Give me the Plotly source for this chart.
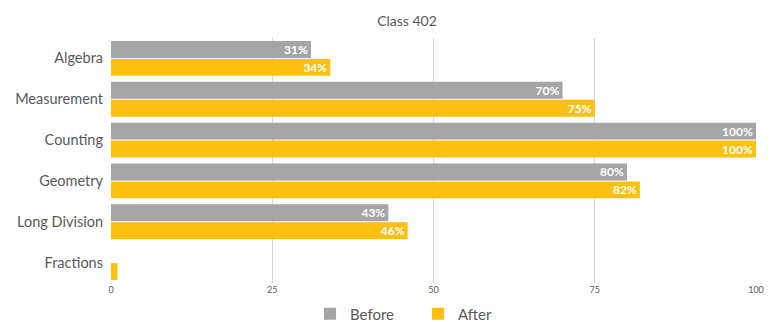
import plotly.graph_objects as go

categories = ["Algebra", "Measurement", "Counting", "Geometry", "Long Division", "Fractions"]
before = [31, 70, 100, 80, 43, 0]
after = [34, 75, 100, 82, 46, 1]
tick_vals = [0, 25, 50, 75, 100]

GRAY = "#a5a5a5"
GOLD = "#fcc010"
TEXT = "#595959"
FONT = "Lato, Open Sans, sans-serif"


def labels(vals):
    return [f"{v}%" if v >= 5 else "" for v in vals]


fig = go.Figure()
for name, vals, color in [("Before", before, GRAY), ("After", after, GOLD)]:
    fig.add_trace(go.Bar(
        name=name, y=categories, x=vals, orientation="h",
        marker=dict(color=color, line=dict(width=0)), text=labels(vals),
        textposition="inside", insidetextanchor="end",
        textfont=dict(color="white", size=12, family=FONT, weight="bold"),
        constraintext="none",
    ))

fig.update_layout(
    width=774, height=322,
    margin=dict(l=111, r=18, t=38, b=39, autoexpand=False),
    paper_bgcolor="white", plot_bgcolor="white",
    barmode="group", bargap=0.12, bargroupgap=0.06,
    title=dict(text="Class 402", x=407 / 774, xanchor="center", y=1 - 21 / 322,
               yanchor="middle", font=dict(family=FONT, size=14, color=TEXT)),
    font=dict(family=FONT, color=TEXT),
    showlegend=True,
    legend=dict(orientation="h", x=310 / 774, xanchor="left", xref="container",
                y=8 / 322, yanchor="middle", yref="container",
                font=dict(size=15, color=TEXT), itemwidth=30, traceorder="normal",
                entrywidth=63, entrywidthmode="pixels"),
    xaxis=dict(range=[0, 100], tickvals=tick_vals, ticktext=[str(t) for t in tick_vals],
               showgrid=True, gridcolor="#d9d9d9", gridwidth=1, zeroline=False,
               showline=False, tickfont=dict(size=9, color=TEXT), ticks=""),
    yaxis=dict(autorange="reversed", showgrid=False, zeroline=False,
               showline=False, tickfont=dict(size=14.5, color=TEXT), ticks="",
               ticklabelstandoff=7),
)

fig.write_html("out.html")
